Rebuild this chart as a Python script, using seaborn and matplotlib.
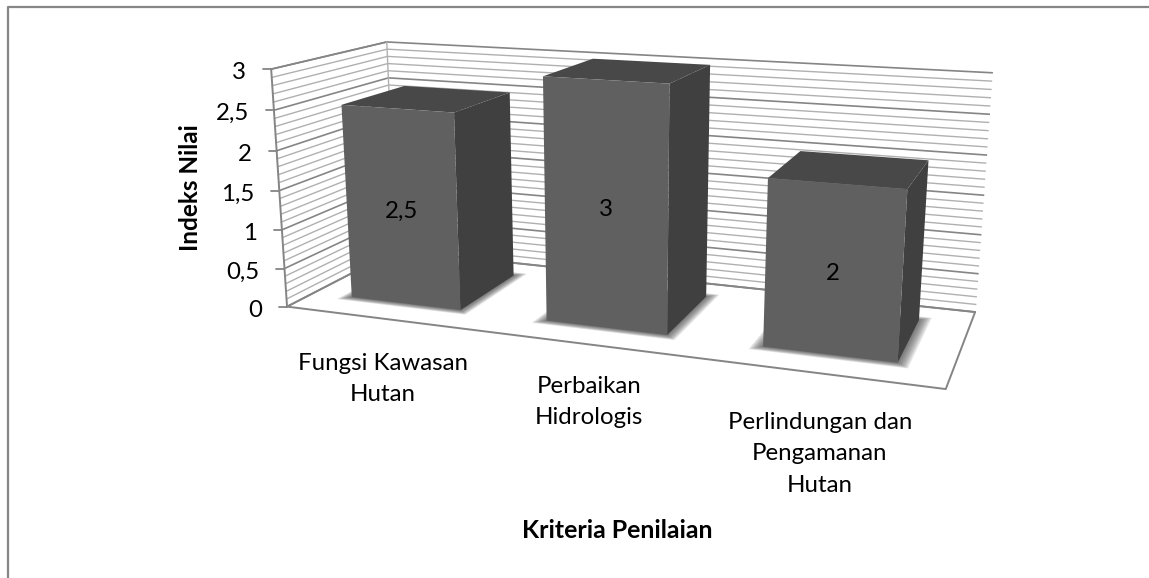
import numpy as np
import pandas as pd
import seaborn as sns
import matplotlib.pyplot as plt
import matplotlib.transforms as mtransforms

categories = ["Fungsi Kawasan\nHutan", "Perbaikan\nHidrologis", "Perlindungan dan\nPengamanan\nHutan"]
values = [2.5, 3, 2]
major_ticks = [0, 0.5, 1, 1.5, 2, 2.5, 3]
tick_labels = ["0", "0,5", "1", "1,5", "2", "2,5", "3"]
minor_step = 0.1
x_title = "Kriteria Penilaian"
y_title = "Indeks Nilai"

W, H = 1149, 578
BAR_W = 0.57
Z0, Z1 = 0.225, 0.8
FS = 17.3
X_L, X_R = -0.49, 2.51

# camera fitted from the corners of the box: (x, value, depth) -> pixel
box_pts = [(X_L, 0, 0), (X_R, 0, 0), (X_R, 0, 1), (X_L, 0, 1), (X_L, 3, 0), (X_L, 3, 1), (X_R, 3, 1)]
box_px = [(287, 305), (946, 390), (975, 311), (396, 252), (271, 70), (387, 41), (992, 73)]

A, b = [], []
for (X, Y, Z), (u, v) in zip(box_pts, box_px):
    A.append([X, Y, Z, 1, 0, 0, 0, 0, -u * X, -u * Y, -u * Z])
    A.append([0, 0, 0, 0, X, Y, Z, 1, -v * X, -v * Y, -v * Z])
    b += [u, v]
cam = np.linalg.lstsq(np.array(A, float), np.array(b, float), rcond=None)[0]
cam = np.append(cam, 1).reshape(3, 4)


def project(x, y, z):
    p = cam @ np.vstack([x, y, z, np.ones_like(np.asarray(x, float))])
    return p[0] / p[2], p[1] / p[2]


class FrontFace(mtransforms.Transform):
    input_dims = 2
    output_dims = 2

    def transform_non_affine(self, values):
        values = np.asarray(values, float)
        u, v = project(values[:, 0], values[:, 1], np.full(len(values), Z0))
        return np.column_stack([u, v])


def quad(ax, pts, **kw):
    uv = [project(np.array([p[0]]), np.array([p[1]]), np.array([p[2]])) for p in pts]
    ax.fill([q[0][0] for q in uv], [q[1][0] for q in uv], **kw)


def seg(ax, pts, **kw):
    pts = np.array(pts, float)
    u, v = project(pts[:, 0], pts[:, 1], pts[:, 2])
    ax.plot(u, v, solid_capstyle="projecting", **kw)


sns.set_theme(style="white")
plt.rcParams["font.family"] = ["Lato", "DejaVu Sans"]

df = pd.DataFrame({"kriteria": categories, "nilai": values})

fig = plt.figure(figsize=(W / 100, H / 100), dpi=100)
ax = fig.add_axes([0, 0, 1, 1])
sns.barplot(data=df, x="kriteria", y="nilai", color="#606060", saturation=1, width=BAR_W, ax=ax)
ax.set_xlim(0, W)
ax.set_ylim(H, 0)
ax.set_xlabel("")
ax.set_ylabel("")
ax.set_xticks([])
ax.set_yticks([])
ax.axis("off")

# outer frame
ax.plot([8, 8, W], [H, 7, 7], color="#868686", lw=1.6, zorder=1)

# wall gridlines
grid = np.arange(0, 3 + 1e-6, minor_step)
for g in grid:
    is_major = min(abs(g - t) for t in major_ticks) < 1e-6
    seg(ax, [(X_L, g, 0), (X_L, g, 1), (X_R, g, 1)],
        color="#858585" if is_major else "#b0b0b0", lw=1.2 if is_major else 1.0, zorder=1)

# floor and value axis
seg(ax, [(X_L, 0, 1), (X_L, 0, 0), (X_R, 0, 0), (X_R, 0, 1), (X_L, 0, 1)], color="#858585", lw=1.4, zorder=1.5)
seg(ax, [(X_L, 0, 0), (X_L, 3, 0)], color="#858585", lw=1.4, zorder=1.5)
seg(ax, [(X_L, 3, 0), (X_L, 3, 1)], color="#858585", lw=1.2, zorder=1.5)
seg(ax, [(X_L, 0, 1), (X_L, 3, 1)], color="#b0b0b0", lw=1.0, zorder=1.5)

for t, lab in zip(major_ticks, tick_labels):
    u, v = project(np.array([X_L]), np.array([t]), np.array([0.0]))
    ax.plot([u[0] - 8, u[0]], [v[0], v[0]], color="#858585", lw=1.3, zorder=1.5)
    ax.text(u[0] - 25, v[0] + 3.5, lab, ha="right", va="center", fontsize=FS, color="black")

# bars: seaborn's rectangles are the front faces, the rest is built from them
front = FrontFace()
for rect, val in zip(ax.patches, values):
    x0, x1, h = rect.get_x(), rect.get_x() + rect.get_width(), rect.get_height()
    rect.set_transform(front + ax.transData)
    rect.set_zorder(4)
    rect.set_edgecolor("none")
    rect.set_clip_on(False)
    # soft shadow on the floor
    for d in np.linspace(0.05, 0.005, 8):
        quad(ax, [(x0 - d, 0, Z0 - d), (x1 + d, 0, Z0 - d), (x1 + d, 0, Z1 + d), (x0 - d, 0, Z1 + d)],
             color="#404040", alpha=0.13, lw=0, zorder=2)
    quad(ax, [(x1, 0, Z0), (x1, 0, Z1), (x1, h, Z1), (x1, h, Z0)], color="#404040", lw=0, zorder=3)
    quad(ax, [(x0, h, Z0), (x1, h, Z0), (x1, h, Z1), (x0, h, Z1)], color="#484848", lw=0, zorder=3)
    u, v = project(np.array([(x0 + x1) / 2]), np.array([h / 2]), np.array([Z0]))
    ax.text(u[0], v[0] + 3, str(val).replace(".", ","), ha="center", va="center", fontsize=FS, color="black", zorder=5)

# category labels
label_pos = [(383, 379), (589, 402), (820, 454)]
for lab, (u, v) in zip(categories, label_pos):
    ax.text(u, v, lab, ha="center", va="center", fontsize=FS, color="black", linespacing=1.6)

ax.text(617, 530, x_title, ha="center", va="center", fontsize=17.9, fontweight="bold", color="black")
ax.text(191, 188, y_title, ha="center", va="center", rotation=90, fontsize=17.5, fontweight="bold", color="black")

fig.savefig("out.png", dpi=100)
